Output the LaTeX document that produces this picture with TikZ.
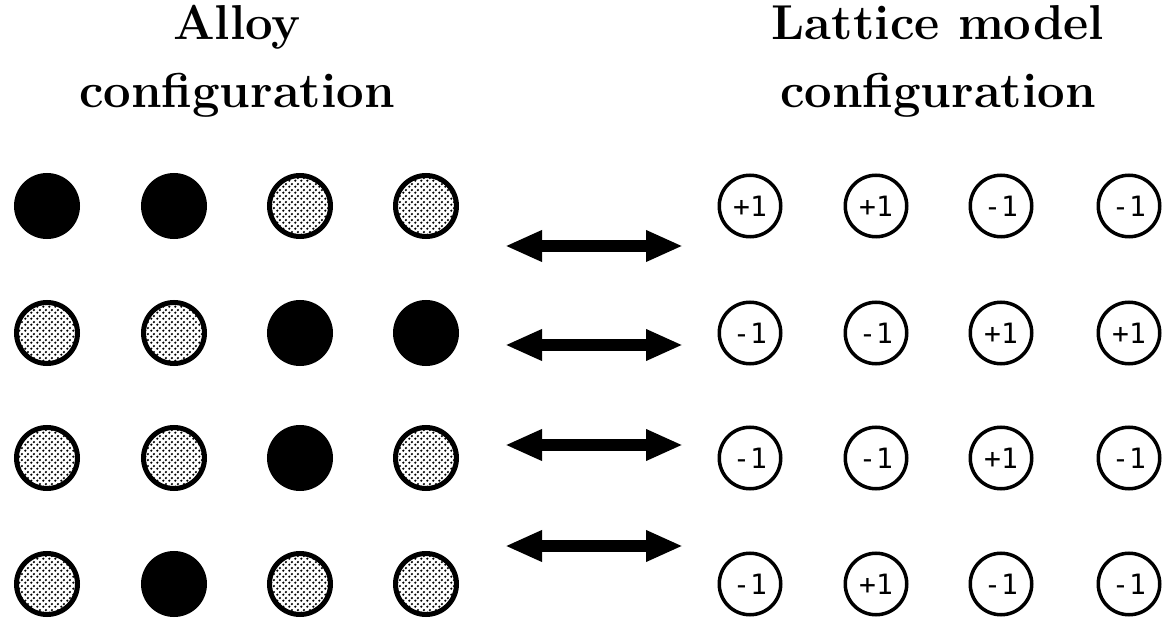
\documentclass[tikz,border=0pt]{standalone}
\usepackage{fontspec}
\newfontfamily\spinfont{DejaVu Sans Mono}
\usetikzlibrary{arrows.meta,patterns}
\pgfdeclarepatternformonly{halftone}{\pgfpointorigin}{\pgfpoint{6pt}{6pt}}{\pgfpoint{6pt}{6pt}}{%
  \pgfpathcircle{\pgfpoint{1.5pt}{1.5pt}}{1.4pt}%
  \pgfpathcircle{\pgfpoint{4.5pt}{4.5pt}}{1.4pt}%
  \pgfusepath{fill}}
\tikzset{
  title/.style={font=\fontsize{49}{58}\selectfont\bfseries, anchor=base, inner sep=0pt},
  atomdark/.style={circle, draw, line width=5pt, minimum size=61pt, inner sep=0pt, fill=black},
  atomlight/.style={circle, draw, line width=5pt, minimum size=61pt, inner sep=0pt, pattern=halftone},
  spin/.style={circle, draw, line width=3.5pt, minimum size=61.5pt, inner sep=0pt,
    font=\spinfont\fontsize{28}{28}\selectfont},
  dblarrow/.style={line width=12pt, {Triangle[length=37pt,width=29pt]}-{Triangle[length=37pt,width=29pt]}}
}
\begin{document}
\begin{tikzpicture}[x=1pt,y=-1pt]
\useasboundingbox (0,0) rectangle (1163,620);
% titles
\node[title] (t1a) at (237,40) {Alloy};
\node[title] (t1b) at (237,108) {configuration};
\node[title] (t2a) at (938,40) {Lattice model};
\node[title] (t2b) at (938,108) {configuration};
% alloy grid
\node[atomdark]  (A11) at (47,206) {};
\node[atomdark]  (A12) at (174,206) {};
\node[atomlight] (A13) at (300,206) {};
\node[atomlight] (A14) at (426,206) {};
\node[atomlight] (A21) at (47,333) {};
\node[atomlight] (A22) at (174,333) {};
\node[atomdark]  (A23) at (300,333) {};
\node[atomdark]  (A24) at (426,333) {};
\node[atomlight] (A31) at (47,458) {};
\node[atomlight] (A32) at (174,458) {};
\node[atomdark]  (A33) at (300,458) {};
\node[atomlight] (A34) at (426,458) {};
\node[atomlight] (A41) at (47,584) {};
\node[atomdark]  (A42) at (174,584) {};
\node[atomlight] (A43) at (300,584) {};
\node[atomlight] (A44) at (426,584) {};
% lattice grid
\node[spin] (S11) at (750,206) {+1};
\node[spin] (S12) at (876,206) {+1};
\node[spin] (S13) at (1001,206) {-1};
\node[spin] (S14) at (1129,206) {-1};
\node[spin] (S21) at (750,333) {-1};
\node[spin] (S22) at (876,333) {-1};
\node[spin] (S23) at (1001,333) {+1};
\node[spin] (S24) at (1129,333) {+1};
\node[spin] (S31) at (750,458) {-1};
\node[spin] (S32) at (876,458) {-1};
\node[spin] (S33) at (1001,458) {+1};
\node[spin] (S34) at (1129,458) {-1};
\node[spin] (S41) at (750,584) {-1};
\node[spin] (S42) at (876,584) {+1};
\node[spin] (S43) at (1001,584) {-1};
\node[spin] (S44) at (1129,584) {-1};
% arrows
\coordinate (L1) at (505,246); \coordinate (R1) at (683,246);
\coordinate (L2) at (505,345); \coordinate (R2) at (683,345);
\coordinate (L3) at (505,445); \coordinate (R3) at (683,445);
\coordinate (L4) at (505,546); \coordinate (R4) at (683,546);
\draw[dblarrow] (L1) -- (R1);
\draw[dblarrow] (L2) -- (R2);
\draw[dblarrow] (L3) -- (R3);
\draw[dblarrow] (L4) -- (R4);
\end{tikzpicture}
\end{document}
